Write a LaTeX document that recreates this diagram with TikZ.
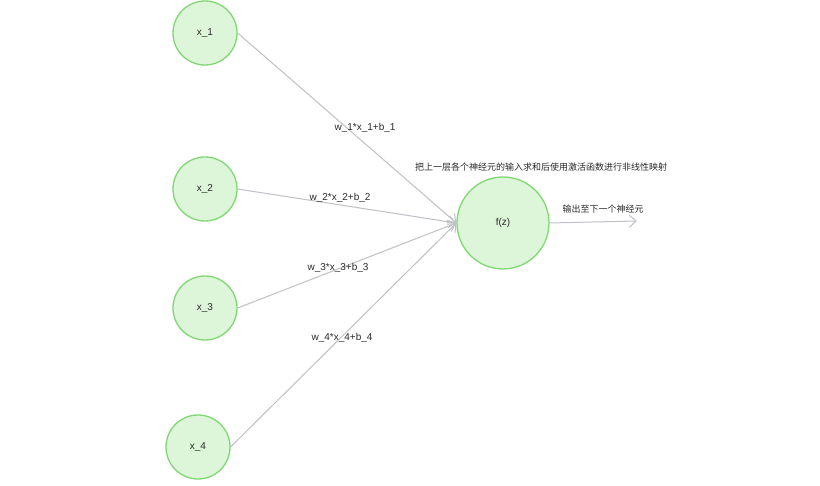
\documentclass[tikz,border=0pt]{standalone}
\usepackage{fontspec}
\setmainfont{Liberation Sans}
\newfontfamily\cjk{Noto Sans CJK SC}
\usetikzlibrary{arrows.meta}
\definecolor{nfill}{HTML}{DDF5D8}
\definecolor{nborder}{HTML}{7FD872}
\definecolor{edgec}{HTML}{C0C0C8}
\definecolor{txt}{HTML}{2A2A2A}
\tikzset{
  neuron/.style={circle, draw=nborder, fill=nfill, line width=1.3pt, inner sep=0pt, font=\fontsize{10}{12}\selectfont, text=txt},
  conn/.style={draw=edgec, line width=1pt, -{Straight Barb[length=7pt,width=12pt]}},
  wlabel/.style={font=\fontsize{10}{12}\selectfont, text=txt, inner sep=0pt},
  cnlabel/.style={font=\cjk\fontsize{9}{11}\selectfont, text=txt, inner sep=0pt}
}
\begin{document}
\begin{tikzpicture}[x=1pt,y=-1pt]
\useasboundingbox[fill=white] (0,0) rectangle (820,486);
\node[neuron, minimum size=64pt] (x1) at (205,33) {x\_1};
\node[neuron, minimum size=64pt] (x2) at (205,189) {x\_2};
\node[neuron, minimum size=64pt] (x3) at (205,308) {x\_3};
\node[neuron, minimum size=64pt] (x4) at (198,447) {x\_4};
\node[neuron, minimum size=92pt] (f) at (503,223) {f(z)};
\coordinate (out) at (637,221);
\draw[conn] (x1.east) -- (f.west);
\draw[conn] (x2.east) -- (f.west);
\draw[conn] (x3.east) -- (f.west);
\draw[conn] (x4.east) -- (f.west);
\draw[conn] (f.east) -- (out);
\node[wlabel] (l1) at (365,128) {w\_1*x\_1+b\_1};
\node[wlabel] (l2) at (340,198) {w\_2*x\_2+b\_2};
\node[wlabel] (l3) at (338,268) {w\_3*x\_3+b\_3};
\node[wlabel] (l4) at (342,338) {w\_4*x\_4+b\_4};
\node[cnlabel] (t1) at (541,167) {把上一层各个神经元的输入求和后使用激活函数进行非线性映射};
\node[cnlabel] (t2) at (603,209) {输出至下一个神经元};
\end{tikzpicture}
\end{document}
